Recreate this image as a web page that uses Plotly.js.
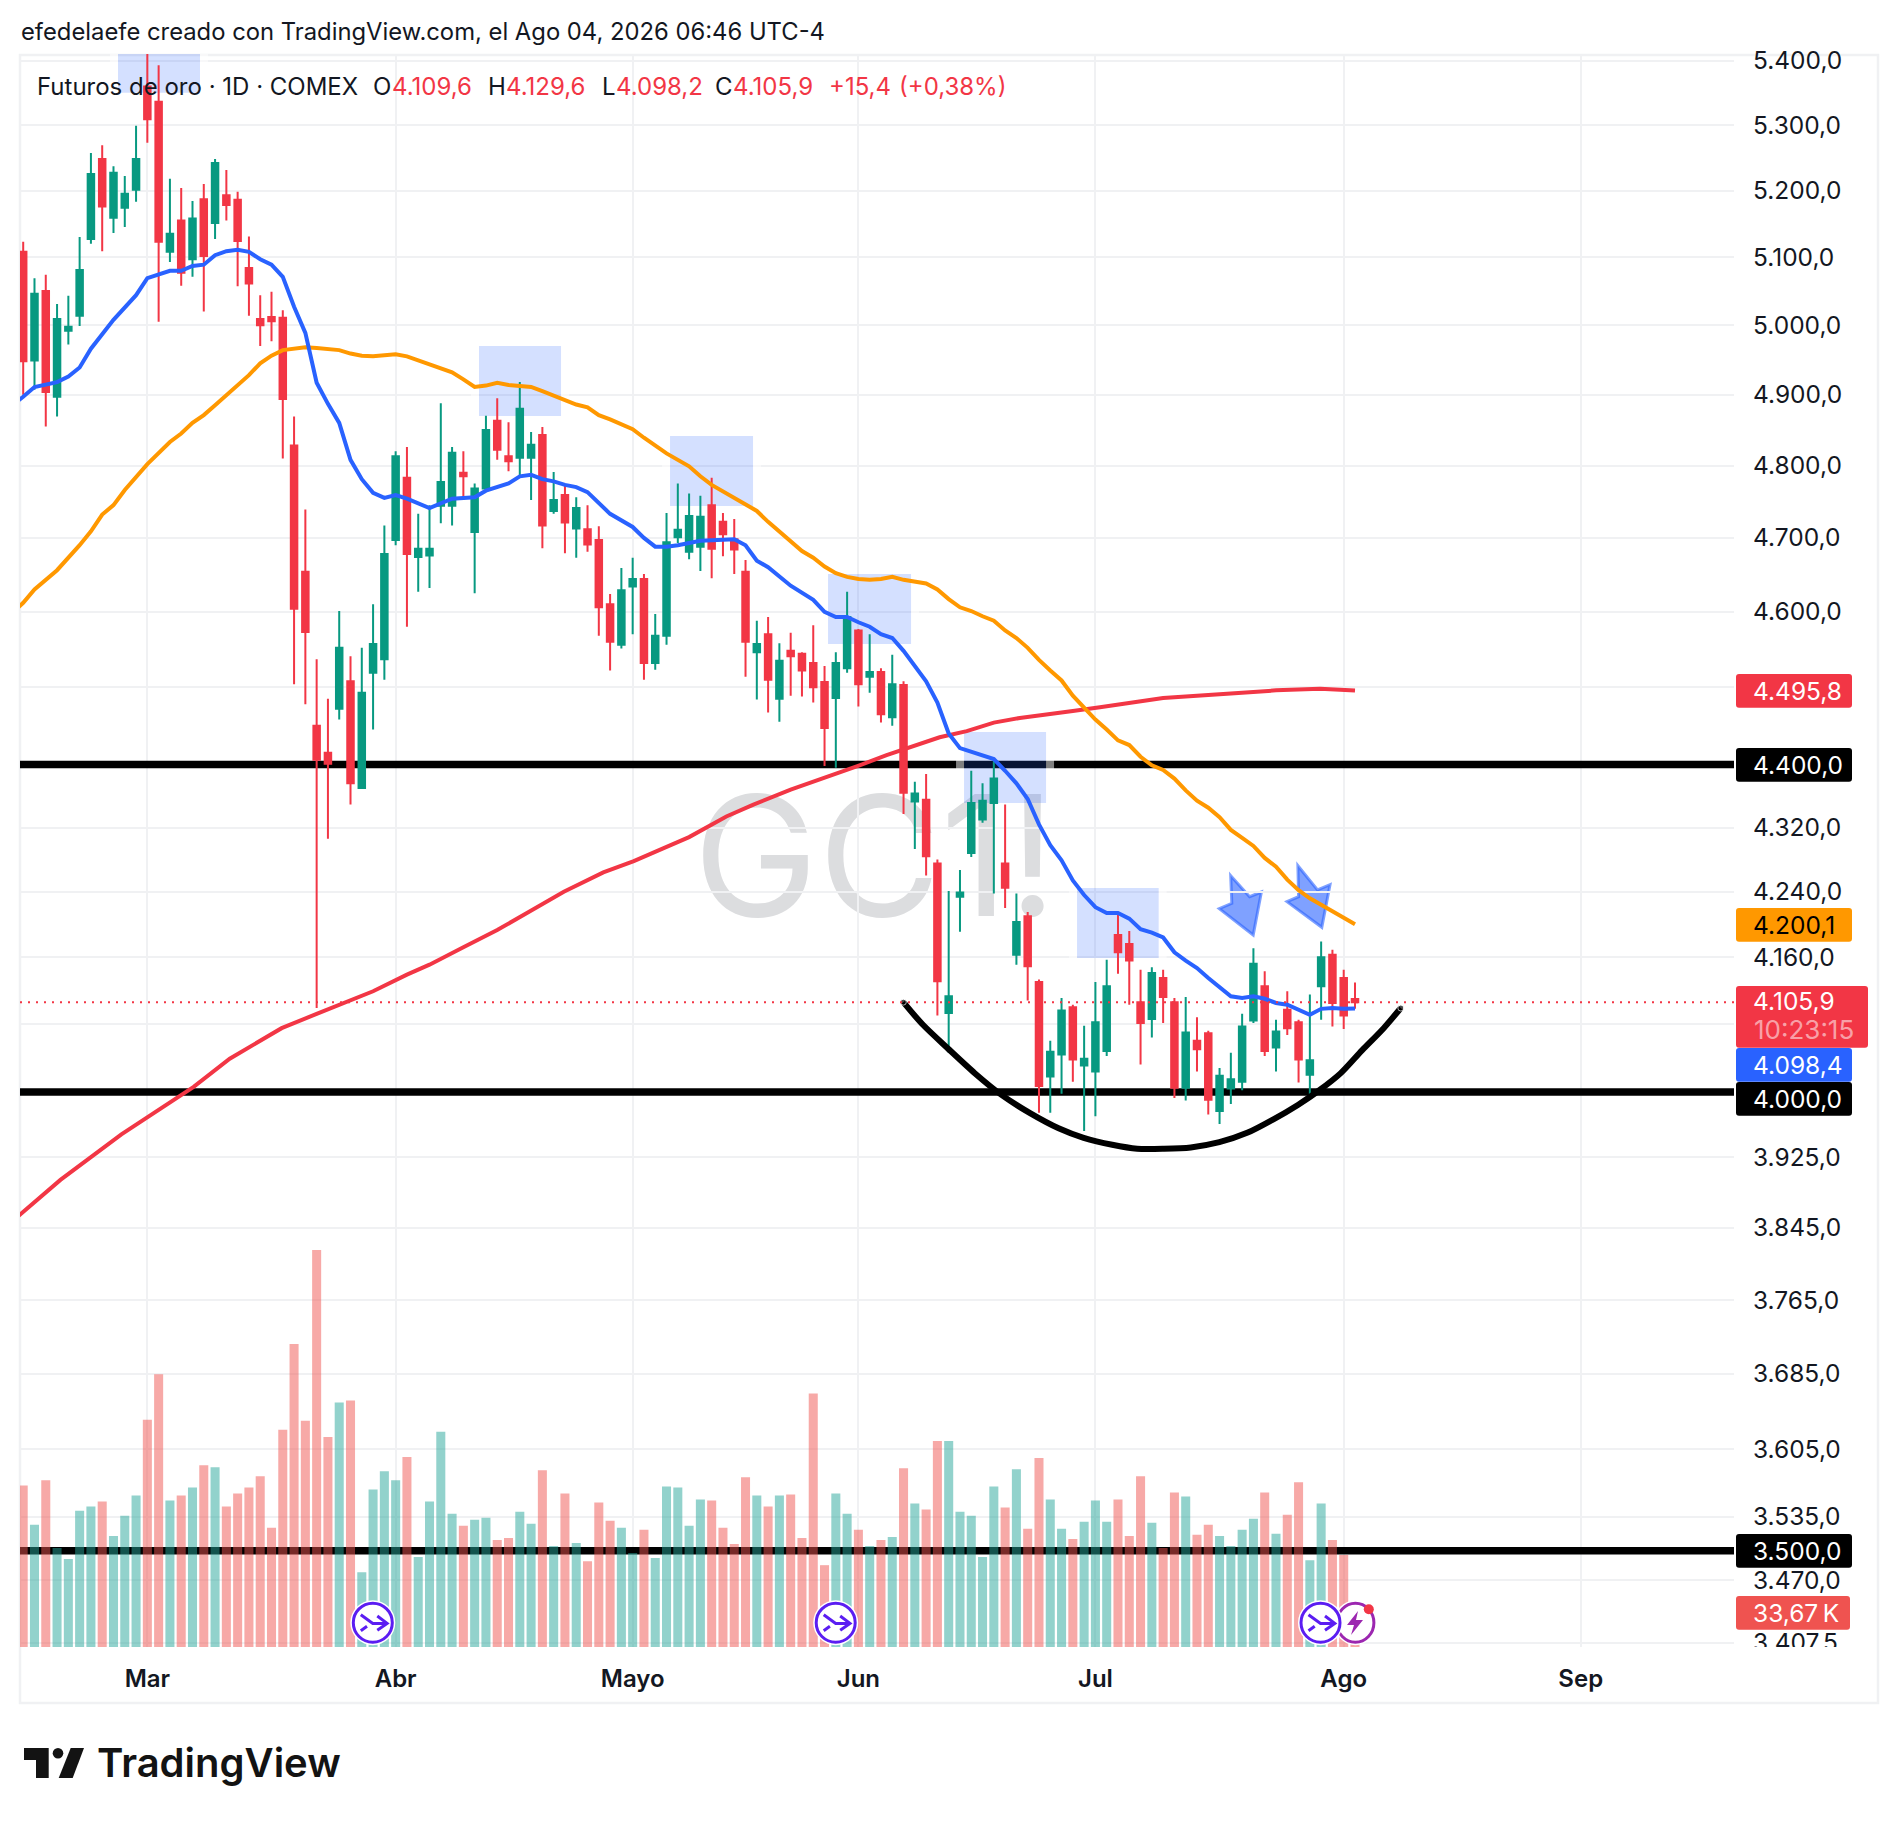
<!DOCTYPE html>
<html><head><meta charset="utf-8">
<script src="https://cdn.plot.ly/plotly-3.0.1.min.js"></script>
<style>html,body{margin:0;padding:0;background:#fff}#c{width:1898px;height:1824px}</style>
</head><body><div id="c"></div>
<script>
// ---- data ----
const open = [5108,4949,5050,4897,4992,5014,5127,5248,5159,5174,
5201,5360,5336,5108,5155,5097,5187,5151,5193,5186,
5084,5009,5012,5011,4828,4654,4450,4415,4472,4508,
4370,4519,4537,4697,4783,4674,4676,4744,4744,4790,
4708,4768,4863,4813,4811,4811,4843,4737,4759,4713,
4712,4697,4610,4556,4634,4644,4532,4568,4701,4681,
4688,4745,4722,4698,4654,4546,4570,4485,4548,4544,
4532,4507,4486,4525,4575,4514,4520,4461,4503,4353,
4355,4275,4093,4234,4288,4330,4351,4275,4163,4210,
4130,4018,4044,4100,4031,4024,4048,4187,4176,4106,
4086,4135,4106,4005,4060,4069,3978,4004,4012,4084,
4125,4052,4097,4082,4020,4125,4163,4135,4109.6];
const high = [5123,5069,5074,5031,5043,5130,5257,5269,5237,5222,
5299,5412,5393,5218,5204,5184,5210,5248,5231,5198,
5131,5044,5049,5022,4869,4739,4537,4485,4601,4541,
4552,4610,4717,4820,4826,4733,4745,4888,4826,4820,
4775,4870,4895,4861,4918,4847,4854,4791,4772,4756,
4745,4716,4624,4659,4673,4651,4597,4734,4775,4761,
4758,4783,4734,4726,4670,4588,4593,4558,4572,4546,
4582,4528,4546,4627,4577,4570,4525,4543,4508,4378,
4388,4280,4241,4267,4392,4376,4406,4349,4238,4215,
4133,4060,4111,4103,4078,4130,4157,4215,4192,4145,
4148,4145,4111,4112,4088,4072,4028,4046,4092,4171,
4143,4085,4119,4085,4115,4179,4169,4145,4129.6];
const low = [4900,4907,4855,4869,4972,4999,5120,5109,5136,5145,
5183,5273,5005,5093,5058,5071,5020,5127,5155,5057,
5014,4970,4977,4810,4504,4478,4099,4306,4458,4349,
4369,4445,4510,4690,4580,4627,4632,4720,4717,4752,
4625,4766,4808,4792,4784,4752,4686,4733,4679,4673,
4681,4568,4522,4551,4570,4510,4523,4556,4693,4671,
4655,4645,4675,4651,4514,4484,4467,4455,4489,4488,
4480,4398,4396,4519,4475,4493,4454,4450,4337,4293,
4260,4090,4046,4191,4283,4326,4238,4220,4151,4108,
3976,3976,3998,4012,3955,3972,4042,4140,4103,4032,
4064,4081,3993,3990,4024,3974,3963,3986,4002,4081,
4042,4024,4067,4011,3993,4085,4077,4074,4098.2];
const close = [4948,5046,4904,5009,4998,5081,5225,5176,5227,5195,
5248,5309,5123,5135,5077,5158,5102,5242,5178,5124,
5061,5000,5006,4894,4604,4573,4406,4401,4552,4376,
4493,4557,4678,4813,4678,4685,4685,4777,4818,4785,
4768,4850,4822,4806,4880,4829,4717,4752,4721,4741,
4691,4606,4560,4629,4644,4532,4568,4694,4711,4730,
4729,4685,4705,4684,4560,4557,4510,4535,4541,4522,
4500,4447,4532,4593,4504,4520,4465,4504,4364,4363,
4284,4131,4113,4239,4351,4354,4382,4245,4203,4149,
4007,4047,4096,4038,4039,4082,4125,4166,4156,4081,
4141,4112,4005,4070,4050,3991,4019,4015,4077,4152,
4048,4071,4075,4038,4037,4160,4105,4090,4105.9];
const volumeK = [160,121,165,98,87,135,139,144,110,130,
150,225,270,145,150,158,180,178,139,152,
158,169,118,215,300,224,393,208,242,244,
74,156,174,165,188,89,144,213,132,120,
126,128,106,108,134,122,175,100,152,103,
85,143,125,118,93,116,88,159,158,120,
146,145,118,102,168,150,139,150,151,108,
251,81,152,132,116,100,106,109,177,142,
136,204,204,134,130,89,159,138,176,117,
187,146,117,107,124,145,124,146,110,169,
123,98,153,149,111,121,110,100,116,127,
153,112,131,163,86,142,106,91,33.67];

const ma20Idx = [-1,0,1,3,4,5,6,8,10,11,13,14,15,16,17,18,19,20,21,22,23,24,25,26,27,28,29,30,31,32,33,34,36,38,40,41,43,44,45,46,47,48,49,50,52,54,55,56,57,58,60,62,63,64,65,66,68,70,71,72,73,74,75,76,77,78,80,81,82,83,85,86,87,88,89,90,91,92,93,94,95,96,97,98,99,100,101,102,103,104,105,106,107,108,109,110,111,112,113,114,115,116,117,118];
const ma20Val = [4885,4897,4911,4918,4926,4939,4966,5008,5044,5069,5080,5080,5087,5089,5103,5109,5111,5108,5097,5089,5071,5027,4989,4917,4887,4860,4808,4781,4762,4755,4759,4754,4741,4754,4756,4765,4775,4785,4787,4781,4778,4773,4770,4763,4733,4715,4700,4688,4688,4690,4696,4697,4698,4690,4669,4660,4635,4616,4600,4593,4593,4586,4580,4570,4565,4548,4508,4480,4440,4421,4411,4407,4392,4376,4356,4324,4298,4279,4254,4236,4221,4214,4214,4207,4194,4190,4184,4166,4156,4147,4135,4124,4113,4111,4113,4110,4105,4103,4097,4091,4098,4099,4098,4098.4];

const ma50Idx = [-1,0,1,3,5,6,7,8,9,11,13,14,15,16,17,19,20,21,22,23,25,26,27,28,29,30,31,32,33,34,36,37,38,39,40,41,42,43,45,46,48,49,50,51,52,54,55,56,57,59,60,61,62,63,64,65,66,67,68,69,70,71,72,73,74,75,76,77,78,79,80,81,82,83,84,85,86,87,88,89,90,91,92,93,94,95,96,97,98,99,100,101,102,103,104,105,106,107,108,109,110,111,112,113,114,115,116,117,118];
const ma50Val = [4598,4612,4630,4656,4690,4709,4732,4745,4766,4802,4833,4845,4860,4871,4885,4914,4928,4945,4956,4964,4968,4967,4965,4964,4959,4956,4955,4957,4958,4955,4944,4937,4932,4922,4911,4913,4917,4914,4911,4905,4893,4886,4882,4871,4865,4851,4839,4828,4817,4799,4785,4773,4764,4756,4747,4737,4722,4709,4695,4682,4673,4661,4652,4647,4644,4643,4644,4647,4643,4641,4638,4630,4617,4606,4601,4594,4588,4575,4565,4552,4536,4522,4509,4489,4473,4458,4445,4431,4425,4410,4399,4393,4382,4367,4354,4345,4333,4317,4307,4297,4282,4271,4255,4242,4232,4224,4216,4209,4200.1];

const ma200Idx = [-1,3.3,8.7,12.4,15.1,18.3,22.9,26,31,34,36,39,42,44.9,47.9,51.4,54.1,56.7,59,62.3,64.7,68,71.8,74.1,76.5,78.9,81.2,83.6,86,88.3,90.7,93,95.4,101,107,111,114.9,117.6,118];
const ma200Val = [3852,3899,3951,3982,4006,4039,4075,4092,4119,4139,4151,4172,4193,4216,4240,4264,4278,4294,4308,4334,4349,4368,4387,4399,4412,4424,4435,4443,4454,4460,4464,4469,4474,4486,4492,4496,4498,4496.5,4495.8];

const curveIdx = [77.98,79.72,81.93,84.31,86.68,89.21,91.74,93.96,96.49,98.7,101.08,103.45,105.98,108.5,110.73,112.94,114.84,116.74,118.64,120.54,122.06];
const curveVal = [4106,4079,4051,4022,3996.6,3975.5,3958,3947,3939,3934.5,3934.5,3936,3942,3953,3968,3985,4002,4022,4049,4075,4099];

const levels = [4400,4000,3500];
const lastPrice = 4105.9;

const tickVals = [5400,5300,5200,5100,5000,4900,4800,4700,4600,4500,4320,4240,4160,4080,3925,3845,3765,3685,3605,3535,3470,3407.5];
const tickText = ['5.400,0','5.300,0','5.200,0','5.100,0','5.000,0','4.900,0','4.800,0','4.700,0','4.600,0','','4.320,0','4.240,0','4.160,0','','3.925,0','3.845,0','3.765,0','3.685,0','3.605,0','3.535,0','3.470,0','3.407,5'];
const monthIdx = [11,33,54,74,95,117,138];
const monthText = ['Mar','Abr','Mayo','Jun','Jul','Ago','Sep'];

// ---- page geometry helpers (decorations only) ----
const L=20,R=1734,T=54,B=1647;
const px=x=>(x-L)/(R-L), py=y=>(B-y)/(B-T);
const dx=x=>(x-23.2)/11.286, dy=y=>4000*Math.exp((1092-y)/3436);
const XMIN=-0.2835,XMAX=151.58;
const RED='#F23645',GREEN='#089981',FONT='Inter, "Noto Sans", sans-serif';
const idx=open.map((_,i)=>i);

const traces=[
 {type:'candlestick',x:idx,open,high,low,close,xaxis:'x',yaxis:'y',whiskerwidth:0,
  increasing:{line:{color:GREEN,width:2},fillcolor:GREEN},
  decreasing:{line:{color:RED,width:2},fillcolor:RED},hoverinfo:'skip',showlegend:false},
 {type:'scatter',mode:'lines',x:ma200Idx,y:ma200Val,line:{color:RED,width:4},hoverinfo:'skip',showlegend:false},
 {type:'scatter',mode:'lines',x:ma50Idx,y:ma50Val,line:{color:'#FF9800',width:4},hoverinfo:'skip',showlegend:false},
 {type:'scatter',mode:'lines',x:ma20Idx,y:ma20Val,line:{color:'#2962FF',width:4},hoverinfo:'skip',showlegend:false},
 {type:'scatter',mode:'lines+markers',x:curveIdx,y:curveVal,line:{color:'#000',width:6,shape:'spline',smoothing:0.8},
  marker:{color:'#000',size:curveIdx.map((_,i)=>(i==0||i==curveIdx.length-1)?6:0)},hoverinfo:'skip',showlegend:false},
 {type:'bar',x:idx,y:volumeK,xaxis:'x',yaxis:'y2',width:0.8,
  marker:{color:idx.map(i=>close[i]>=open[i]?'rgba(38,166,154,0.5)':'rgba(239,83,80,0.5)'),line:{width:0}},hoverinfo:'skip',showlegend:false}
];

const shapes=[];
const pRect=(x0,y0,x1,y1,o)=>Object.assign({type:'rect',xref:'paper',yref:'paper',x0:px(x0),x1:px(x1),y0:py(y0),y1:py(y1),line:{width:0}},o);
const dRect=(x0,y0,x1,y1,fill)=>({type:'rect',layer:'between',xref:'x',yref:'y',x0:dx(x0),x1:dx(x1),y0:dy(y0),y1:dy(y1),fillcolor:fill,line:{width:0}});
const poly=(pts,close_)=>pts.map((p,i)=>(i?'L':'M')+px(p[0]).toFixed(6)+','+py(p[1]).toFixed(6)).join('')+(close_?'Z':'');
const P=(x,y)=>px(x).toFixed(6)+','+py(y).toFixed(6);
function rounded(x0,y0,x1,y1,r,fill){
 shapes.push({type:'path',layer:'above',xref:'paper',yref:'paper',fillcolor:fill,line:{width:0},
 path:'M'+P(x0+r,y0)+'L'+P(x1-r,y0)+'Q'+P(x1,y0)+' '+P(x1,y0+r)+'L'+P(x1,y1-r)+'Q'+P(x1,y1)+' '+P(x1-r,y1)+'L'+P(x0+r,y1)+'Q'+P(x0,y1)+' '+P(x0,y1-r)+'L'+P(x0,y0+r)+'Q'+P(x0,y0)+' '+P(x0+r,y0)+'Z'});
}
// watermark
shapes.push(pRect(692,774,1058,924,{layer:'below',fillcolor:'rgba(0,0,0,0)',label:{text:'GC1!',textposition:'middle center',font:{family:FONT,size:167.5,color:'#DCDDDF'}}}));
// outer frame
shapes.push(pRect(20,55,1878,1703,{layer:'below',line:{color:'#F0F1F3',width:2.5}}));
// horizontal levels
levels.forEach(v=>shapes.push({type:'line',layer:'between',xref:'x',yref:'y',x0:XMIN,x1:XMAX,y0:v,y1:v,line:{color:'#000',width:7.5}}));
// highlight rectangles
[[118,54,200,92.7],[479,346,561,416],[670,436,753,506],[828,574,911,644],[964,732,1046,803],[1077,888,1158.6,958]].forEach(r=>{
 shapes.push(dRect(r[0]-8,r[1],r[0],r[3],'rgba(255,255,255,0.5)'));
 shapes.push(dRect(r[2],r[1],r[2]+8,r[3],'rgba(255,255,255,0.5)'));
 shapes.push(dRect(r[0],r[1],r[2],r[3],'rgba(41,98,255,0.2)'));
});
// drawn arrows
[[[1230.7,875.7],[1249.6,896.7],[1261.4,892],[1253.2,935],[1219.3,908.7],[1231.8,903.3]],
 [[1297.9,865.7],[1317.5,890],[1330,884.7],[1321.8,927.3],[1287,901.7],[1298.6,896.7]]].forEach(a=>{
 shapes.push({type:'path',layer:'below',xref:'paper',yref:'paper',path:poly(a,true),fillcolor:'rgba(41,98,255,0.6)',line:{color:'rgba(41,98,255,0.6)',width:3}});
});
// last price dotted line
shapes.push({type:'line',layer:'above',xref:'paper',yref:'y',x0:0,x1:1,y0:lastPrice,y1:lastPrice,line:{color:RED,width:2,dash:'2px,6px'}});
// event icons
function ring(cx,cy,rx,ry,color,w){
 shapes.push({type:'circle',layer:'above',xref:'paper',yref:'paper',x0:px(cx-rx-3),x1:px(cx+rx+3),y0:py(cy+ry+3),y1:py(cy-ry-3),fillcolor:'#fff',line:{width:0}});
 shapes.push({type:'circle',layer:'above',xref:'paper',yref:'paper',x0:px(cx-rx),x1:px(cx+rx),y0:py(cy+ry),y1:py(cy-ry),fillcolor:'#fff',line:{color,width:w}});
}
function stroke(cx,cy,pts,color,w){shapes.push({type:'path',layer:'above',xref:'paper',yref:'paper',path:poly(pts.map(p=>[cx+p[0],cy+p[1]])),line:{color,width:w}});}
function split(cx,cy){const c='#5B1DF2';ring(cx,cy,19.5,19.5,c,3);
 stroke(cx,cy,[[-12,-8],[0,0.7],[13.5,0.7]],c,3);stroke(cx,cy,[[4.5,-6.7],[14.3,0.7],[4.5,7.5]],c,3);stroke(cx,cy,[[-12,8],[-5.8,3.6]],c,3);}
split(372.8,1622.7);split(835.7,1622.7);
ring(1355.4,1622.7,18.5,19.5,'#9C27B0',3);
shapes.push({type:'path',layer:'above',xref:'paper',yref:'paper',fillcolor:'#9C27B0',line:{width:0},path:poly([[1358,1611],[1347,1625],[1354,1625],[1351,1635],[1363,1620],[1356,1620]],true)});
shapes.push({type:'circle',layer:'above',xref:'paper',yref:'paper',x0:px(1363.8),x1:px(1373.8),y0:py(1614.3),y1:py(1604.3),fillcolor:RED,line:{width:0}});
split(1320.5,1622.7);
// clip last axis label, as the pane does
shapes.push(pRect(1740,1647,1870,1662,{layer:'above',fillcolor:'#fff'}));
// right-hand value tags
const tags=[
 ['4.495,8',RED,'#fff',674,707.7,1852],['4.400,0','#000','#fff',748,781.7,1852],['4.200,1','#FF9800','#000',908,941.7,1852],
 ['4.105,9',RED,'#fff',986,1047.7,1868],
 ['4.098,4','#2962FF','#fff',1048,1081.7,1852],['4.000,0','#000','#fff',1082,1115.7,1852],['3.500,0','#000','#fff',1534,1567.7,1852],
 ['33,67\u202fK','#EF5350','#fff',1596,1629.7,1850]];
tags.forEach(t=>rounded(1736,t[3],t[5],t[4],3,t[1]));
// logo
shapes.push({type:'path',layer:'above',xref:'paper',yref:'paper',fillcolor:'#131313',line:{width:0},path:poly([[24,1748],[48.7,1748],[48.7,1778],[36,1778],[36,1760],[24,1760]],true)});
shapes.push({type:'circle',layer:'above',xref:'paper',yref:'paper',x0:px(52.7),x1:px(63.3),y0:py(1758.5),y1:py(1748),fillcolor:'#131313',line:{width:0}});
shapes.push({type:'path',layer:'above',xref:'paper',yref:'paper',fillcolor:'#131313',line:{width:0},path:poly([[70.7,1748],[84,1748],[72.7,1778],[58.7,1778]],true)});

const ann=[];
const txt=(x,y,text,color,size,weight)=>ann.push({xref:'paper',yref:'paper',x:px(x),y:py(y),text,showarrow:false,xanchor:'left',yanchor:'middle',borderpad:0,font:{family:FONT,size:size||24.5,color:color||'#131722',weight:weight||400}});
txt(20,31.6,'efedelaefe creado con TradingView.com, el Ago 04, 2026 06:46 UTC-4','#131722',23.8);
[[36,'Futuros de oro · 1D · COMEX','#131722',24],[372,'O','#131722',24],[391,'4.109,6',RED,24],[487.5,'H','#131722',24],[504.5,'4.129,6',RED,24],[601,'L','#131722',24],[615,'4.098,2',RED,24],[714,'C','#131722',24],[732,'4.105,9',RED,24],[828,'+15,4',RED,24],[898,'(+0,38%)',RED,24]].forEach(s=>
 txt(s[0],86.4,s[1],s[2],s[3]));
tags.forEach((t,i)=>{
 if(i==3){txt(1752,1001,t[0],t[2]);txt(1753,1029,'10:23:15','rgba(255,255,255,0.55)',26);}
 else txt(1752,(t[3]+t[4])/2,t[0],t[2]);
});
txt(96,1762,'TradingView','#131313',40,600);

const layout={
 width:1898,height:1824,margin:{l:L,r:1898-R,t:T,b:1824-B,pad:0},paper_bgcolor:'#fff',plot_bgcolor:'rgba(0,0,0,0)',
 showlegend:false,dragmode:false,hovermode:false,
 xaxis:{type:'linear',range:[XMIN,XMAX],tickmode:'array',tickvals:monthIdx,ticktext:monthText,ticks:'',ticklen:0,showline:false,zeroline:false,
  showgrid:true,gridcolor:'#F0F1F3',gridwidth:2,tickfont:{family:FONT,size:24,color:'#131722',weight:600},rangeslider:{visible:false},ticklabelstandoff:15},
 yaxis:{type:'log',range:[3.53191,3.73326],side:'right',tickmode:'array',tickvals:tickVals,ticktext:tickText,ticks:'',ticklen:0,showline:false,zeroline:false,
  showgrid:true,gridcolor:'#F0F1F3',gridwidth:2,tickfont:{family:FONT,size:24.5,color:'#131722'},ticklabelstandoff:18},
 yaxis2:{overlaying:'y',side:'right',range:[0,1577],visible:false,showgrid:false,zeroline:false},
 boxgap:0.2,boxgroupgap:0.28,bargap:0.2,
 shapes,annotations:ann
};
Plotly.newPlot('c',traces,layout,{staticPlot:true,displayModeBar:false});
</script></body></html>
